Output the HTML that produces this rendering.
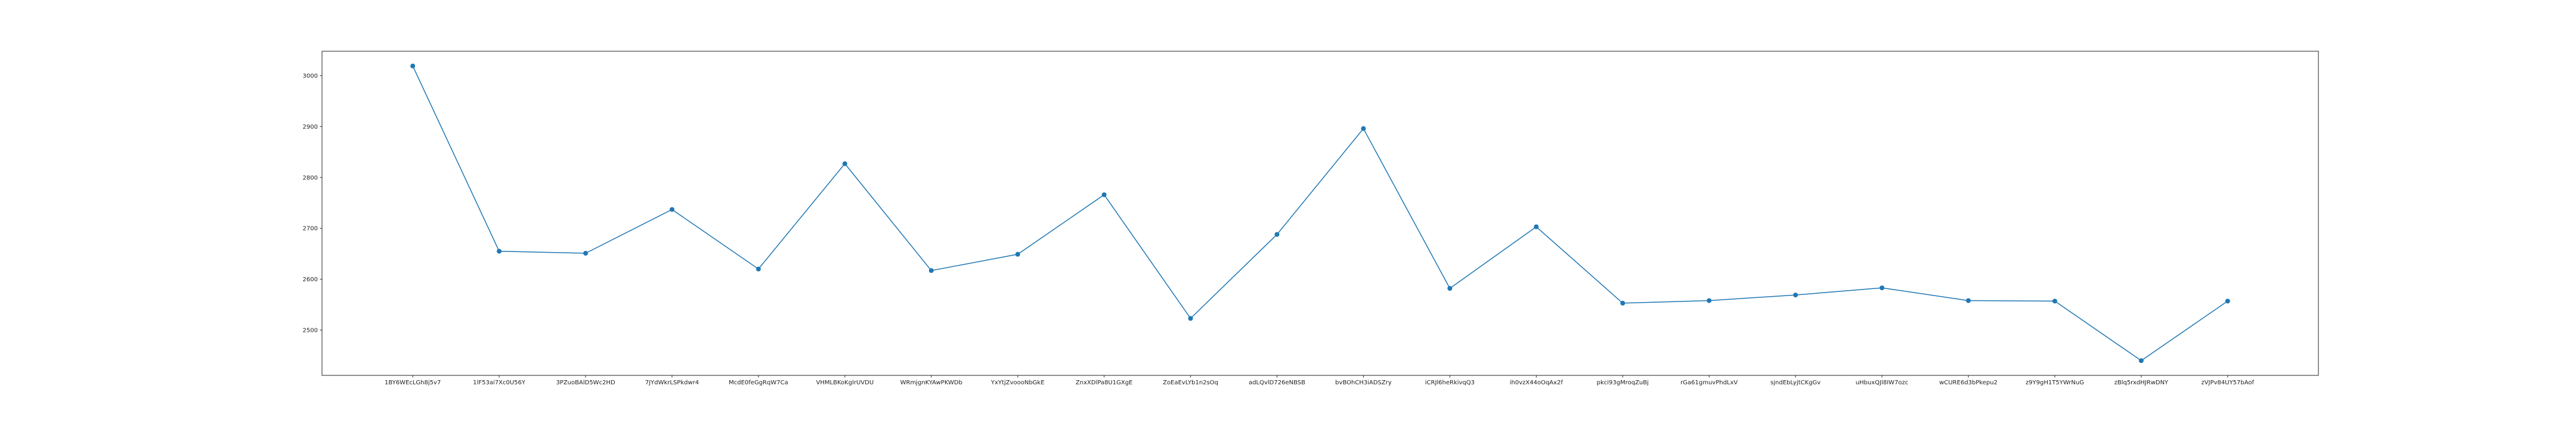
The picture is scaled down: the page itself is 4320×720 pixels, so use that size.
<!DOCTYPE html>
<html><head><meta charset="utf-8"><style>
html,body{margin:0;padding:0;background:#fff;}
svg{display:block;font-family:"DejaVu Sans","Liberation Sans",sans-serif;}
</style></head><body>
<svg id="chart" width="4320" height="720" viewBox="0 0 4320 720" xmlns="http://www.w3.org/2000/svg">
<rect x="0" y="0" width="4320" height="720" fill="#fff"/>
<g id="grid"></g>
<polyline id="series-line" fill="none" stroke="#1f77b4" stroke-width="1.5"/>
<g id="marks"></g>
<rect x="540" y="86" width="3348" height="544" fill="none" stroke="#222" stroke-width="1"/>
<g id="xaxis"></g><g id="yaxis"></g>
</svg>
<script>
const categories = ["1BY6WEcLGh8j5v7","1lF53ai7Xc0U56Y","3PZuoBAlD5Wc2HD","7JYdWkrLSPkdwr4","McdE0feGgRqW7Ca","VHMLBKoKglrUVDU","WRmjgnKYAwPKWDb","YxYtjZvoooNbGkE","ZnxXDlPa8U1GXgE","ZoEaEvLYb1n2sOq","adLQvlD726eNBSB","bvBOhCH3iADSZry","iCRJl6heRkivqQ3","ih0vzX44oOqAx2f","pkci93gMroqZuBj","rGa61gmuvPhdLxV","sjndEbLyjtCKgGv","uHbuxQJl8IW7ozc","wCURE6d3bPkepu2","z9Y9gH1T5YWrNuG","zBlq5rxdHJRwDNY","zVJPv84UY57bAof"];
const values = [3019,2655,2651,2737,2620,2827,2617,2649,2766,2523,2688,2896,2582,2703,2553,2558,2569,2583,2558,2557,2440,2557];
const yTicks = [2500,2600,2700,2800,2900,3000];

const L=540,R=3888,T=86,B=630;
const n=categories.length;
const xMin=-0.05*(n-1), xMax=(n-1)*1.05;
const vmin=Math.min(...values), vmax=Math.max(...values), pad=(vmax-vmin)*0.05;
const yMin=vmin-pad, yMax=vmax+pad;
const xs=i=>L+(i-xMin)/(xMax-xMin)*(R-L);
const ys=v=>B-(v-yMin)/(yMax-yMin)*(B-T);
const NS="http://www.w3.org/2000/svg";
function mk(tag,attrs,parent){const e=document.createElementNS(NS,tag);for(const k in attrs)e.setAttribute(k,attrs[k]);parent.appendChild(e);return e;}

document.getElementById('series-line').setAttribute('points',values.map((v,i)=>xs(i)+','+ys(v)).join(' '));
const marks=document.getElementById('marks');
values.forEach((v,i)=>{
  const c=mk('circle',{cx:xs(i),cy:ys(v),r:4,fill:'#1f77b4'},marks);
  
  
});
const xa=document.getElementById('xaxis');


categories.forEach((c,i)=>{
  const x=xs(i);
  mk('line',{x1:x,x2:x,y1:B,y2:B+3.5,stroke:'#222','stroke-width':1},xa);
  const t=mk('text',{x:x,y:B+15,'text-anchor':'middle','font-size':10,fill:'#222'},xa);
  t.textContent=c;
  
  
});
const ya=document.getElementById('yaxis');


yTicks.forEach(v=>{
  const y=ys(v);
  mk('line',{x1:L-3.5,x2:L,y1:y,y2:y,stroke:'#222','stroke-width':1},ya);
  const t=mk('text',{x:L-7,y:y+3.5,'text-anchor':'end','font-size':10,fill:'#222'},ya);
  t.textContent=v;
  
  
});
</script>
</body></html>
